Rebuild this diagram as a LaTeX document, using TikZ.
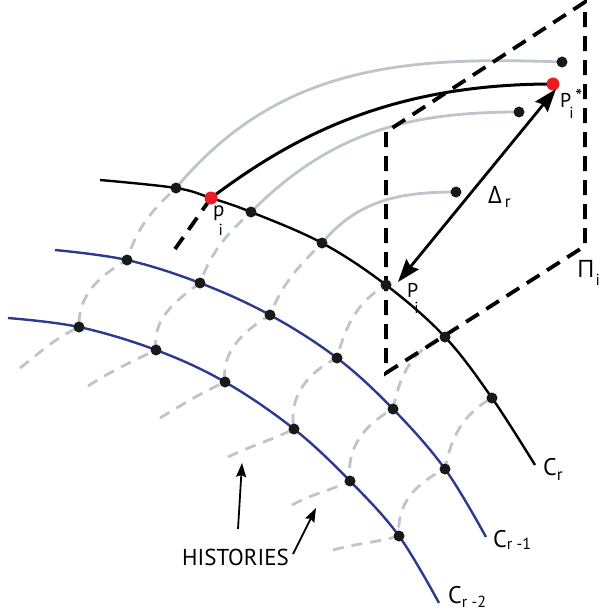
\documentclass[tikz,border=0pt]{standalone}
\usepackage{fontspec}
\setmainfont{PT Sans}
\newfontfamily\grk{Open Sans}
\usetikzlibrary{arrows.meta}
\definecolor{hgray}{RGB}{190,196,202}
\definecolor{cblue}{RGB}{43,57,144}
\definecolor{pred}{RGB}{237,28,36}
\tikzset{
  hist/.style={hgray, line width=2.8pt, dash pattern=on 11pt off 8pt},
  harc/.style={hgray, line width=2.8pt},
  crv/.style={line width=2.4pt, line join=round},
  bluecrv/.style={crv, cblue},
  planeedge/.style={line width=3.8pt, dash pattern=on 15pt off 9pt},
  dot/.style={circle, fill=black!90, inner sep=0pt, minimum size=11pt},
  rdot/.style={circle, fill=pred, inner sep=0pt, minimum size=13pt},
  lbl/.style={anchor=base west, inner sep=0pt},
  bigarrow/.style={line width=2.8pt, {Stealth[length=23pt,width=16pt,inset=3pt]}-{Stealth[length=23pt,width=16pt,inset=3pt]}},
  smallarrow/.style={line width=1.8pt, -{Stealth[length=14pt,width=10pt,inset=2pt]}},
}
\newcommand{\dn}[3]{\raisebox{-#1}{\fontsize{#2}{#2}\selectfont #3}}
\begin{document}
\begin{tikzpicture}[x=1pt,y=-1pt]
\useasboundingbox (0,0) rectangle (600,615);
% C_r points
\coordinate (r0) at (100,180);
\coordinate (r1) at (176,188);
\coordinate (pi) at (211,198);
\coordinate (r3) at (251,212);
\coordinate (r4) at (322,243);
\coordinate (Pi) at (386,285);
\coordinate (r6) at (445,337);
\coordinate (r7) at (492,398);
\coordinate (r8) at (535,465);
% C_{r-1}
\coordinate (a0) at (55,250);
\coordinate (a1) at (127,260);
\coordinate (a2) at (200,283);
\coordinate (a3) at (270,315);
\coordinate (a4) at (337,358);
\coordinate (a5) at (393,409);
\coordinate (a6) at (445,469);
\coordinate (a7) at (486,537);
% C_{r-2}
\coordinate (b0) at (8,318);
\coordinate (b1) at (79,327);
\coordinate (b2) at (156,350);
\coordinate (b3) at (225,382);
\coordinate (b4) at (294,429);
\coordinate (b5) at (350,481);
\coordinate (b6) at (399,536);
\coordinate (b7) at (439,603);
% history tails
\coordinate (t1) at (20,368);
\coordinate (t3) at (88,386);
\coordinate (t4) at (160,418);
\coordinate (t5) at (228,457);
\coordinate (t6) at (292,505);
\coordinate (t7) at (333,550);
% predicted ends
\coordinate (e1) at (562,62);
\coordinate (Ps) at (553,84);
\coordinate (e3) at (519,112);
\coordinate (e4) at (456,192);
\coordinate (pd) at (175,249);
% plane
\coordinate (q1) at (386,132);
\coordinate (q2) at (386,373);
\coordinate (q3) at (585,246);
\coordinate (q4) at (585,2);
% arrow ends
\coordinate (aT) at (556,89);
\coordinate (aB) at (398,282);
\coordinate (h1s) at (238,529);
\coordinate (h1e) at (242,463);
\coordinate (h2s) at (293,554);
\coordinate (h2e) at (316,508);

% histories (dashed)
\draw[hist] (t1) .. controls +(22,-17) and +(-25,12) .. (b1)
  .. controls +(-1,-32) and +(-28,16) .. (a1)
  .. controls +(10,-32) and +(-25,23) .. (r1);
\draw[hist] (t3) .. controls +(25,-16) and +(-27,13) .. (b2)
  .. controls +(-4,-31) and +(-25,18) .. (a2)
  .. controls +(12,-32) and +(-25,23) .. (r3);
\draw[hist] (t4) .. controls +(25,-15) and +(-26,12) .. (b3)
  .. controls +(-4,-31) and +(-26,16) .. (a3)
  .. controls +(13,-32) and +(-25,25) .. (r4);
\draw[hist] (t5) .. controls +(25,-12) and +(-25,12) .. (b4)
  .. controls +(-6,-32) and +(-29,14) .. (a4)
  .. controls +(9,-33) and +(-29,17) .. (Pi);
\draw[hist] (t6) .. controls +(22,-12) and +(-23,11) .. (b5)
  .. controls +(-4,-33) and +(-29,16) .. (a5)
  .. controls +(7,-34) and +(-33,12) .. (r6);
\draw[hist] (t7) .. controls +(25,-7) and +(-25,7) .. (b6)
  .. controls +(-3,-32) and +(-29,14) .. (a6)
  .. controls +(6,-32) and +(-29,16) .. (r7);
% predicted arcs
\draw[harc] (r1) .. controls +(102,-122) and +(-159,-6) .. (e1);
\draw[harc] (r3) .. controls +(79,-79) and +(-112,0) .. (e3);
\draw[harc] (r4) .. controls +(36,-43) and +(-56,0) .. (e4);

% curves
\draw[crv] plot[smooth, tension=0.6] coordinates {(r0) (r1) (pi) (r3) (r4) (Pi) (r6) (r7) (r8)};
\draw[bluecrv] plot[smooth, tension=0.6] coordinates {(a0) (a1) (a2) (a3) (a4) (a5) (a6) (a7)};
\draw[bluecrv] plot[smooth, tension=0.6] coordinates {(b0) (b1) (b2) (b3) (b4) (b5) (b6) (b7)};

% black prediction
\draw[line width=3pt] (pi) .. controls +(80,-60) and +(-165,0) .. (Ps);
\draw[planeedge] (pi) -- (pd);

% plane
\draw[planeedge] (q1) -- (q2) -- (q3) -- (q4) -- cycle;

% dots
\foreach \p in {r1,r3,r4,Pi,r6,r7,a1,a2,a3,a4,a5,a6,b1,b2,b3,b4,b5,b6,e1,e3,e4}
  \node[dot] (d\p) at (\p) {};
\node[rdot] (dpi) at (pi) {};
\node[rdot] (dPs) at (Ps) {};

% arrows
\draw[bigarrow] (aB) -- (aT);
\draw[smallarrow] (h1s) -- (h1e);
\draw[smallarrow] (h2s) -- (h2e);

% labels
\node[lbl, font=\fontsize{24}{24}\selectfont] (lcr) at (543,475) {C\dn{5pt}{17}{r}};
\node[lbl, font=\fontsize{24}{24}\selectfont] (lcr1) at (493,547) {C\dn{2pt}{16}{r -1}};
\node[lbl, font=\fontsize{24}{24}\selectfont] (lcr2) at (448,603) {C\dn{4pt}{16}{r -2}};
\node[lbl, font=\fontsize{20}{20}\selectfont] (lPs) at (560,107) {P\rlap{\kern-2pt\dn{11pt}{16}{i}}\kern4pt\raisebox{3pt}{*}};
\node[lbl, font=\fontsize{20}{20}\selectfont] (lPi) at (407,297) {P\kern-4pt\dn{16pt}{16}{i}};
\node[lbl, font=\fontsize{21}{21}\selectfont] (lpi) at (213,216) {p\kern-6pt\dn{19pt}{16}{i}};
\node[lbl, font=\fontsize{24}{24}\selectfont] (ldr) at (488,203) {{\grk Δ}\kern3pt\dn{4pt}{17}{r}};
\node[lbl, font=\fontsize{24}{24}\selectfont] (lPI) at (577,277) {{\grk Π}\kern1pt\dn{8pt}{16}{i}};
\node[lbl, font=\fontsize{23}{23}\selectfont] (lhist) at (182,565) {HISTORIES};
\end{tikzpicture}
\end{document}
